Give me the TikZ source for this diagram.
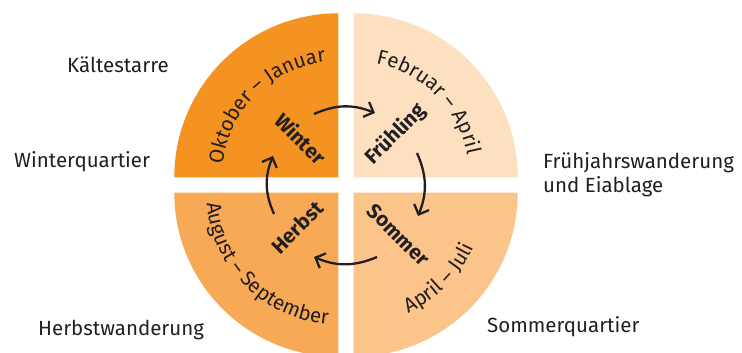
\documentclass[tikz,border=0pt]{standalone}
\usepackage{fontspec}
\setmainfont{Fira Sans}
\usetikzlibrary{arrows.meta, decorations.text}

\definecolor{winterorange}{RGB}{244,146,34}
\definecolor{herbstorange}{RGB}{247,169,86}
\definecolor{sommerorange}{RGB}{251,196,139}
\definecolor{fruehlingorange}{RGB}{253,224,192}
\definecolor{textgrey}{RGB}{35,31,32}

\begin{document}
\begin{tikzpicture}[x=1pt, y=1pt,
        place/.style={text=textgrey, font=\fontsize{20.5}{24}\selectfont, inner sep=0pt},
        season/.style={text=textgrey, font=\fontsize{20.5}{24}\selectfont\bfseries, inner sep=1pt},
        cyc/.style={draw=textgrey, line width=2.3pt, -{Straight Barb[length=8pt, width=16pt]}, bend left=23},
        months/.style={decorate, decoration={text along path, text align=center,
            text color=textgrey, text={|\fontsize{20.5}{24}\selectfont|#1}}}]
        \useasboundingbox (0,0) rectangle (742,353);

        % quarter corners
        \coordinate (tl) at (338.3,175.7);
        \coordinate (tr) at (353.7,175.7);
        \coordinate (bl) at (338.3,160.3);
        \coordinate (br) at (353.7,160.3);

        \fill[winterorange] (tl) -- ++(-164,0) arc[start angle=180, end angle=90, radius=164pt] -- cycle;
        \fill[fruehlingorange] (tr) -- ++(0,164) arc[start angle=90, end angle=0, radius=164pt] -- cycle;
        \fill[herbstorange] (bl) -- ++(-164,0) arc[start angle=180, end angle=270, radius=164pt] -- cycle;
        \fill[sommerorange] (br) -- ++(0,-164) arc[start angle=270, end angle=360, radius=164pt] -- cycle;

        % months along the rim
        \path[months={Oktober – Januar}] ([xshift=-116pt]tl) arc[start angle=180, end angle=90, radius=116pt];
        \path[months={Februar – April}] ([yshift=116pt]tr) arc[start angle=90, end angle=0, radius=116pt];
        \path[months={August – September}] ([xshift=-132pt]bl) arc[start angle=180, end angle=270, radius=132pt];
        \path[months={April – Juli}] ([yshift=-132pt]br) arc[start angle=270, end angle=360, radius=132pt];

        \node[season, rotate=-45] (winter) at (300.7,214.7) {Winter};
        \node[season, rotate=45] (fruehling) at (395.7,218.7) {Frühling};
        \node[season, rotate=-45] (sommer) at (398.3,118) {Sommer};
        \node[season, rotate=45] (herbst) at (297.3,125.7) {Herbst};

        \coordinate (w-out) at (314,239);
        \coordinate (f-in) at (375,240);
        \coordinate (f-out) at (417,200);
        \coordinate (s-in) at (418,137);
        \coordinate (s-out) at (377,96);
        \coordinate (h-in) at (314,96);
        \coordinate (h-out) at (274,139);
        \coordinate (w-in) at (273,197);

        \draw[cyc] (w-out) to (f-in);
        \draw[cyc] (f-out) to (s-in);
        \draw[cyc] (s-out) to (h-in);
        \draw[cyc] (h-out) to (w-in);

        \node[place, anchor=base west] (kaelte) at (67,280) {Kältestarre};
        \node[place, anchor=base west] (winterq) at (14,185) {Winterquartier};
        \node[place, anchor=base west, align=left] (fruehjahr) at (543,160) {Frühjahrswanderung\\und Eiablage};
        \node[place, anchor=base west] (herbstw) at (38,17) {Herbstwanderung};
        \node[place, anchor=base west] (sommerq) at (487,20) {Sommerquartier};
\end{tikzpicture}
\end{document}
